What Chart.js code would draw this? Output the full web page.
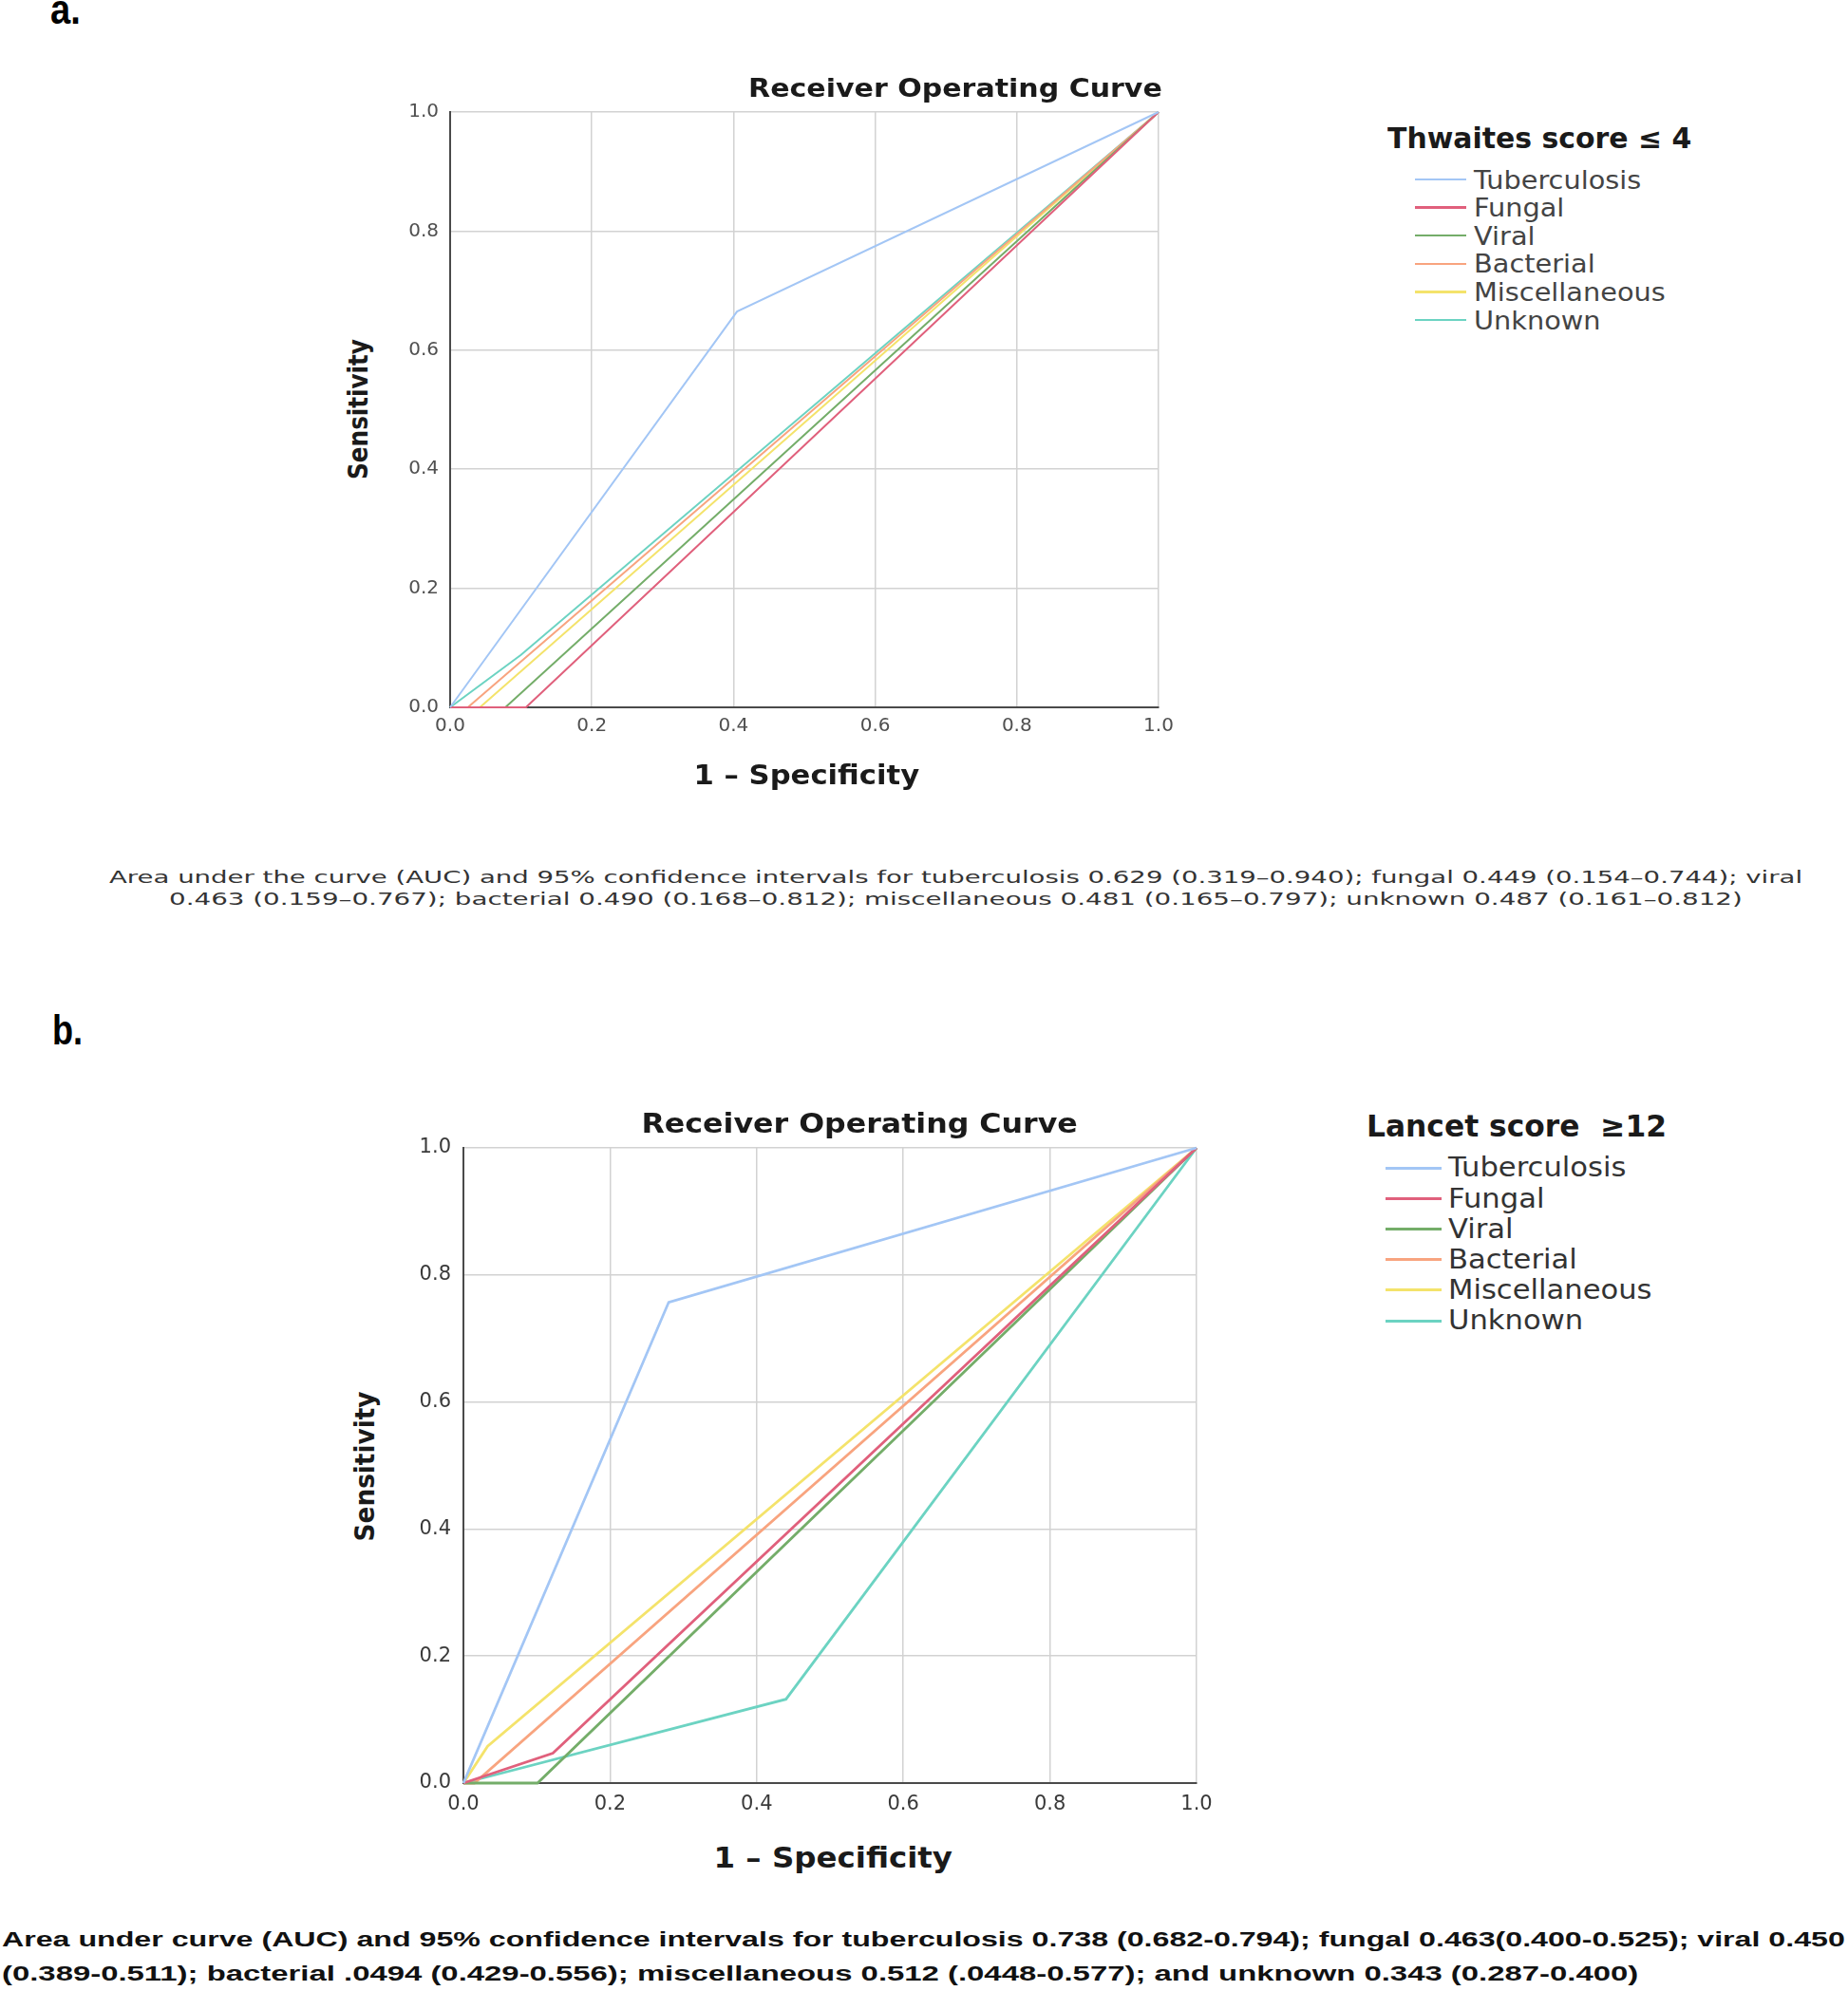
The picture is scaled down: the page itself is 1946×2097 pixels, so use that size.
<!DOCTYPE html>
<html>
<head>
<meta charset="utf-8">
<script src="https://cdn.jsdelivr.net/npm/chart.js@4.4.0/dist/chart.umd.min.js"></script>
<style>
  html, body { margin: 0; padding: 0; background: #fff; }
  #page { position: relative; width: 1946px; height: 2097px; overflow: hidden; background: #fff; }
  canvas { position: absolute; }
  .txt { position: absolute; white-space: pre; line-height: 1; }
  .key { position: absolute; }
</style>
</head>
<body>
<div id="page">
  <canvas id="rocA" width="850" height="706" style="left:400px;top:94px"></canvas>
  <canvas id="rocB" width="880" height="745" style="left:410px;top:1183px"></canvas>
</div>
<script>
// series shared by both panels
const seriesNames = ['Tuberculosis', 'Fungal', 'Viral', 'Bacterial', 'Miscellaneous', 'Unknown'];
const seriesColors = ['#a3c6f5', '#e0607c', '#74ad69', '#f8a47f', '#f4e36b', '#6cd3c2'];
const tickValues = [0, 0.2, 0.4, 0.6, 0.8, 1.0];

// panel a: Thwaites score <= 4 (1 - specificity, sensitivity)
const thwaitesTbX = [0, 0.405, 1];
const thwaitesTbY = [0, 0.665, 1];
const thwaitesFungalX = [0, 0.107, 1];
const thwaitesFungalY = [0, 0, 1];
const thwaitesViralX = [0, 0.078, 1];
const thwaitesViralY = [0, 0, 1];
const thwaitesBactX = [0, 0.025, 1];
const thwaitesBactY = [0, 0, 1];
const thwaitesMiscX = [0, 0.042, 1];
const thwaitesMiscY = [0, 0, 1];
const thwaitesUnkX = [0, 0.1, 1];
const thwaitesUnkY = [0, 0.088, 1];

// panel b: Lancet score >= 12
const lancetTbX = [0, 0.28, 1];
const lancetTbY = [0, 0.757, 1];
const lancetFungalX = [0, 0.122, 1];
const lancetFungalY = [0, 0.047, 1];
const lancetViralX = [0, 0.101, 1];
const lancetViralY = [0, 0, 1];
const lancetBactX = [0, 0.015, 1];
const lancetBactY = [0, 0, 1];
const lancetMiscX = [0, 0.033, 1];
const lancetMiscY = [0, 0.058, 1];
const lancetUnkX = [0, 0.44, 1];
const lancetUnkY = [0, 0.132, 1];

const captionA = [
  'Area under the curve (AUC) and 95% confidence intervals for tuberculosis 0.629 (0.319\u20130.940); fungal 0.449 (0.154\u20130.744); viral',
  '0.463 (0.159\u20130.767); bacterial 0.490 (0.168\u20130.812); miscellaneous 0.481 (0.165\u20130.797); unknown 0.487 (0.161\u20130.812)'
];
const captionB = [
  'Area under curve (AUC) and 95% confidence intervals for tuberculosis 0.738 (0.682-0.794); fungal 0.463(0.400-0.525); viral 0.450',
  '(0.389-0.511); bacterial .0494 (0.429-0.556); miscellaneous 0.512 (.0448-0.577); and unknown 0.343 (0.287-0.400)'
];

const page = document.getElementById('page');
const SANS = "'DejaVu Sans', sans-serif";

// place a text span by its baseline, optionally stretched to a target width
function addText(t) {
  const el = document.createElement('span');
  el.className = 'txt';
  el.textContent = t.text;
  el.style.fontFamily = t.family || SANS;
  el.style.fontSize = t.size + 'px';
  el.style.fontWeight = t.bold ? 'bold' : 'normal';
  el.style.color = t.color || '#1a1a1a';
  page.appendChild(el);
  const natural = el.offsetWidth;
  const sx = t.w ? t.w / natural : (t.sx || 1);
  if (t.rotate) {
    el.style.left = (t.x - natural / 2) + 'px';
    el.style.top = (t.y - t.size / 2) + 'px';
    el.style.transformOrigin = '50% 50%';
    el.style.transform = `rotate(-90deg) scaleX(${sx})`;
  } else {
    let left = t.x;
    if (t.align === 'center') left = t.x - natural / 2;
    if (t.align === 'right') left = t.x - natural;
    el.style.left = left + 'px';
    el.style.top = (t.y - 0.846 * t.size) + 'px';
    el.style.transformOrigin = t.align === 'center' ? '50% 0' : (t.align === 'right' ? '100% 0' : '0 0');
    el.style.transform = `scaleX(${sx})`;
  }
  return sx;
}

function addLegend(l) {
  addText({ text: l.title, x: l.titleX, y: l.titleY, w: l.titleW, size: l.titleSize, bold: true });
  let sx = null;
  seriesNames.forEach((name, i) => {
    const rowY = l.top + i * l.step;
    const key = document.createElement('div');
    key.className = 'key';
    key.style.left = l.keyX + 'px';
    key.style.width = l.keyW + 'px';
    key.style.top = (rowY - l.keyH / 2) + 'px';
    key.style.height = l.keyH + 'px';
    key.style.background = seriesColors[i];
    page.appendChild(key);
    const t = { text: name, x: l.textX, y: rowY + l.base, size: l.size, color: l.color };
    if (sx === null) { t.w = l.firstW; sx = addText(t); }
    else { t.sx = sx; addText(t); }
  });
}

function rocChart(id, xs, ys, o) {
  const datasets = seriesNames.map((name, i) => ({
    label: name,
    data: xs[i].map((x, j) => ({ x: x, y: ys[i][j] })),
    borderColor: seriesColors[i],
    borderWidth: o.lineWidth,
    pointRadius: 0,
    tension: 0,
    fill: false,
    clip: false
  }));
  const tickFont = { family: SANS, size: o.tickSize };
  const axis = (afterFit, pad) => ({
    type: 'linear',
    min: 0,
    max: 1,
    afterFit: afterFit,
    afterBuildTicks: s => { s.ticks = tickValues.map(v => ({ value: v })); },
    ticks: { callback: v => v.toFixed(1), padding: pad, font: tickFont, color: o.tickColor, maxRotation: 0, autoSkip: false },
    grid: { color: '#d2d2d2', lineWidth: 1.5, drawTicks: false },
    border: { color: '#4a4a4a', width: 2 }
  });
  return new Chart(document.getElementById(id), {
    type: 'line',
    data: { datasets },
    options: {
      responsive: false,
      animation: false,
      devicePixelRatio: 1,
      layout: { padding: { top: o.padTop, right: 30, left: 0, bottom: 0 } },
      plugins: { legend: { display: false }, tooltip: { enabled: false } },
      scales: {
        x: axis(s => { s.height = o.xAxisH; }, o.xPad),
        y: axis(s => { s.width = o.yAxisW; }, o.yPad)
      }
    }
  });
}

// ===== panel a =====
rocChart('rocA',
  [thwaitesTbX, thwaitesFungalX, thwaitesViralX, thwaitesBactX, thwaitesMiscX, thwaitesUnkX],
  [thwaitesTbY, thwaitesFungalY, thwaitesViralY, thwaitesBactY, thwaitesMiscY, thwaitesUnkY],
  { lineWidth: 2, padTop: 24, xAxisH: 55, yAxisW: 74, tickSize: 20, tickColor: '#505050', xPad: 8, yPad: 12 });

addText({ text: 'a.', x: 53, y: 25, w: 32, size: 44, bold: true, family: "'Liberation Sans', sans-serif", color: '#000' });
addText({ text: 'Receiver Operating Curve', x: 1224, y: 102, w: 436, size: 27, bold: true, align: 'right' });
addText({ text: 'Sensitivity', x: 378, y: 431, w: 148, size: 28, bold: true, rotate: true });
addText({ text: '1 \u2013 Specificity', x: 849, y: 827, w: 238, size: 29, bold: true, align: 'center' });
addLegend({ title: 'Thwaites score \u2264 4', titleX: 1461, titleY: 156, titleW: 320, titleSize: 30,
  top: 189, step: 29.6, keyX: 1490, keyW: 54, keyH: 2.5, textX: 1552, base: 9.5, size: 26, firstW: 176, color: '#444' });
addText({ text: captionA[0], x: 1006, y: 930, w: 1783, size: 18, align: 'center', color: '#333' });
addText({ text: captionA[1], x: 1006, y: 953, w: 1657, size: 18, align: 'center', color: '#333' });

// ===== panel b =====
rocChart('rocB',
  [lancetTbX, lancetFungalX, lancetViralX, lancetBactX, lancetMiscX, lancetUnkX],
  [lancetTbY, lancetFungalY, lancetViralY, lancetBactY, lancetMiscY, lancetUnkY],
  { lineWidth: 2.8, padTop: 26, xAxisH: 50, yAxisW: 78, tickSize: 21, tickColor: '#3a3a3a', xPad: 10, yPad: 13 });

addText({ text: 'b.', x: 55, y: 1100, w: 32, size: 44, bold: true, family: "'Liberation Sans', sans-serif", color: '#000' });
addText({ text: 'Receiver Operating Curve', x: 905, y: 1194, w: 459, size: 28, bold: true, align: 'center' });
addText({ text: 'Sensitivity', x: 385, y: 1544, w: 158, size: 29, bold: true, rotate: true });
addText({ text: '1 \u2013 Specificity', x: 877, y: 1967, w: 251, size: 30, bold: true, align: 'center' });
addLegend({ title: 'Lancet score  \u226512', titleX: 1439, titleY: 1197, titleW: 316, titleSize: 32,
  top: 1230, step: 32.2, keyX: 1459, keyW: 59, keyH: 3, textX: 1525, base: 10, size: 28, firstW: 188, color: '#333' });
addText({ text: captionB[0], x: 2, y: 2051, w: 1941, size: 22, bold: true, family: "'Liberation Sans', sans-serif", color: '#111' });
addText({ text: captionB[1], x: 2, y: 2087, w: 1723, size: 22, bold: true, family: "'Liberation Sans', sans-serif", color: '#111' });
</script>
</body>
</html>
